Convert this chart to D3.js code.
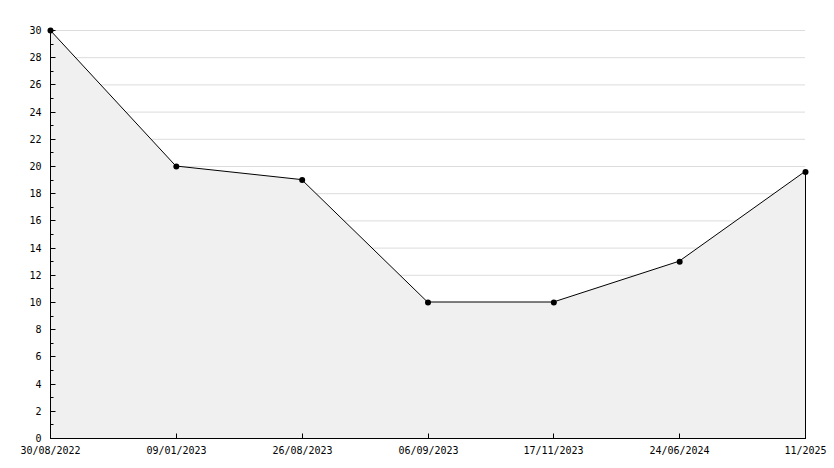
<!DOCTYPE html>
<html>
<head>
<meta charset="utf-8">
<script src="https://cdn.jsdelivr.net/npm/d3@7"></script>
<style>
  body { margin: 0; background: #fff; }
  text { font-family: "DejaVu Sans Mono", monospace; font-size: 10px; fill: #000; }
</style>
</head>
<body>
<div class="chart"></div>
<script>
const dates = ["30/08/2022", "09/01/2023", "26/08/2023", "06/09/2023", "17/11/2023", "24/06/2024", "11/2025"];
const values = [30, 20, 19, 10, 10, 13, 19.6];
const yTicks = [0, 2, 4, 6, 8, 10, 12, 14, 16, 18, 20, 22, 24, 26, 28, 30];

const margin = { top: 30, right: 29, bottom: 30, left: 50 };
const width = 834, height = 468;

const svg = d3
  .select(".chart")
  .append("svg")
  .attr("width", width)
  .attr("height", height);

const x = d3.scalePoint().domain(dates).range([margin.left, width - margin.right]);
const y = d3.scaleLinear().domain([0, 30]).range([height - margin.bottom, margin.top]);

const data = dates.map((d, i) => [d, values[i]]);

// grid
svg.append("g")
  .selectAll("line")
  .data(yTicks.filter((d) => d > 0))
  .enter()
  .append("line")
  .attr("x1", margin.left)
  .attr("x2", width - margin.right)
  .attr("y1", (d) => y(d) + 0.5)
  .attr("y2", (d) => y(d) + 0.5)
  .style("stroke", "#dcdcdc");

// area
const area = d3.area()
  .x((d) => x(d[0]))
  .y0(y(0))
  .y1((d) => y(d[1]));

svg.append("path")
  .datum(data)
  .attr("d", area)
  .style("fill", "#f0f0f0");

// right edge of area
svg.append("line")
  .attr("x1", x(dates[dates.length - 1]) + 0.5)
  .attr("x2", x(dates[dates.length - 1]) + 0.5)
  .attr("y1", y(values[values.length - 1]))
  .attr("y2", y(0))
  .style("stroke", "#000");

// line
svg.append("path")
  .datum(data)
  .attr("d", d3.line().x((d) => x(d[0])).y((d) => y(d[1])))
  .style("fill", "none")
  .style("stroke", "#000")
  .style("stroke-width", 1);

// y axis
const yAxis = svg.append("g").attr("transform", `translate(${margin.left + 0.5},0)`);
yAxis.append("line")
  .attr("y1", y(30))
  .attr("y2", y(0))
  .style("stroke", "#000");

yAxis.selectAll(".minor")
  .data(d3.range(1, 30, 2))
  .enter()
  .append("line")
  .attr("x2", 3)
  .attr("y1", (d) => Math.round(y(d)) + 0.5)
  .attr("y2", (d) => Math.round(y(d)) + 0.5)
  .style("stroke", "#000");

const yTick = yAxis.selectAll(".major")
  .data(yTicks)
  .enter()
  .append("g")
  .attr("transform", (d) => `translate(0,${Math.round(y(d)) + 0.5})`);

yTick.append("line").attr("x2", 5).style("stroke", "#000");
yTick.append("text")
  .attr("x", -9)
  .attr("dy", "0.35em")
  .attr("text-anchor", "end")
  .text((d) => d);

// x axis
const xAxis = svg.append("g").attr("transform", `translate(0,${y(0) + 0.5})`);
xAxis.append("line")
  .attr("x1", margin.left)
  .attr("x2", width - margin.right + 1)
  .style("stroke", "#000");

const xTick = xAxis.selectAll("g")
  .data(dates)
  .enter()
  .append("g")
  .attr("transform", (d) => `translate(${Math.round(x(d)) + 0.5},0)`);

xTick.append("line").attr("y2", -5).style("stroke", "#000");
xTick.append("text")
  .attr("y", 12)
  .attr("dy", "0.35em")
  .attr("text-anchor", "middle")
  .text((d) => d);

// markers
svg.append("g")
  .selectAll("circle")
  .data(data)
  .enter()
  .append("circle")
  .attr("cx", (d) => x(d[0]) + 0.5)
  .attr("cy", (d) => y(d[1]) + 0.5)
  .attr("r", 3)
  .style("fill", "#000");
</script>
</body>
</html>
